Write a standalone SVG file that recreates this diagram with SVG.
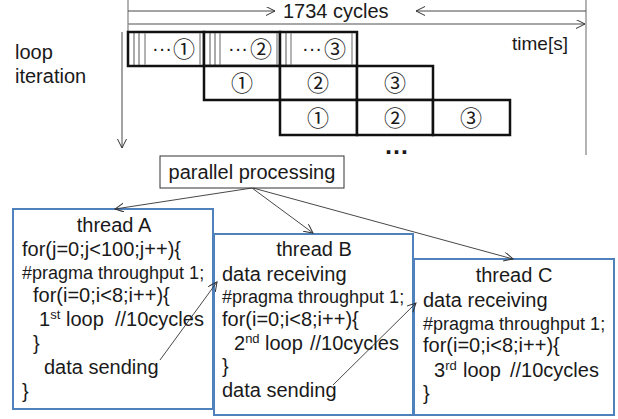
<svg xmlns="http://www.w3.org/2000/svg" width="618" height="419" viewBox="0 0 618 419">
<defs>
<style>
text{font-family:"Liberation Sans",Arial,sans-serif;font-size:20px;fill:#1a1a1a}
.pr{font-size:18px}
.sup{font-size:13px}
.cn{font-family:"Noto Sans CJK JP","DejaVu Sans",sans-serif;font-size:22px;text-anchor:middle}
.gray{stroke:#8a8a8a;stroke-width:1.3;fill:none}
.thin{stroke:#444;stroke-width:0.9;fill:none}
.cell{stroke:#111;stroke-width:2.5;fill:#fff}
.node{stroke:#4f81bd;stroke-width:2;fill:#fff}
.conn{stroke:#333;stroke-width:0.9;fill:none;marker-end:url(#ah)}
</style>
<marker id="ah" markerUnits="userSpaceOnUse" markerWidth="10" markerHeight="10" refX="9" refY="4.5" orient="auto">
<path d="M0,0 L9,4.5 L0,9" fill="none" stroke="#333" stroke-width="1"/>
</marker>
</defs>
<rect width="618" height="419" fill="#fff"/>

<g id="timeline">
<line class="gray" x1="128" y1="0" x2="128" y2="32"/>
<line class="gray" x1="586" y1="0" x2="586" y2="155"/>
<line class="conn" x1="128" y1="11" x2="275" y2="11"/>
<line class="conn" x1="586" y1="11" x2="416" y2="11"/>
<line class="gray" x1="128" y1="24" x2="585" y2="24" marker-end="url(#ah)"/>
<text x="283" y="18">1734 cycles</text>
<text x="512" y="50" style="font-size:19px">time[s]</text>
<text x="15" y="59">loop</text>
<text x="15" y="83">iteration</text>
<line class="conn" x1="122" y1="32" x2="122" y2="148"/>
</g>

<g id="row1">
<rect class="cell" x="128" y="32" width="76" height="34"/>
<rect class="cell" x="204" y="32" width="76" height="34"/>
<rect class="cell" x="280" y="32" width="77" height="34"/>
<line class="thin" x1="134" y1="33" x2="134" y2="65"/>
<line class="thin" x1="139" y1="33" x2="139" y2="65"/>
<line class="gray" x1="145" y1="33" x2="145" y2="65"/>
<line class="gray" x1="200" y1="33" x2="200" y2="65"/>
<line class="thin" x1="210" y1="33" x2="210" y2="65"/>
<line class="thin" x1="215" y1="33" x2="215" y2="65"/>
<line class="gray" x1="220" y1="33" x2="220" y2="65"/>
<line class="gray" x1="277" y1="33" x2="277" y2="65"/>
<line class="thin" x1="286" y1="33" x2="286" y2="65"/>
<line class="gray" x1="291" y1="33" x2="291" y2="65"/>
<line class="gray" x1="352" y1="33" x2="352" y2="65"/>
<text x="152" y="55">···</text><text class="cn" x="184" y="57">①</text>
<text x="228" y="55">···</text><text class="cn" x="261" y="57">②</text>
<text x="302" y="55">···</text><text class="cn" x="335" y="57">③</text>
</g>

<g id="row2">
<rect class="cell" x="204" y="66" width="76" height="34"/>
<rect class="cell" x="280" y="66" width="77" height="34"/>
<rect class="cell" x="357" y="66" width="76" height="34"/>
<text class="cn" x="242" y="91">①</text>
<text class="cn" x="318" y="91">②</text>
<text class="cn" x="395" y="91">③</text>
</g>

<g id="row3">
<rect class="cell" x="280" y="100" width="77" height="35"/>
<rect class="cell" x="357" y="100" width="76" height="35"/>
<rect class="cell" x="433" y="100" width="77" height="35"/>
<text class="cn" x="318" y="126">①</text>
<text class="cn" x="395" y="126">②</text>
<text class="cn" x="471" y="126">③</text>
<text x="384" y="154" style="font-size:25px;font-weight:bold">…</text>
</g>

<g id="parallel">
<rect x="160" y="156" width="184" height="32" fill="#fff" stroke="#333" stroke-width="1"/>
<text x="252" y="179" text-anchor="middle">parallel processing</text>
</g>

<g id="threadA">
<rect class="node" x="13" y="209" width="200" height="200"/>
<text x="114" y="232" text-anchor="middle">thread A</text>
<text x="22" y="256">for(j=0;j&lt;100;j++){</text>
<text class="pr" x="22" y="279">#pragma throughput 1;</text>
<text x="33" y="302">for(i=0;i&lt;8;i++){</text>
<text x="39" y="326">1<tspan class="sup" dy="-7">st</tspan><tspan dy="7" x="66">loop</tspan><tspan x="115">//10cycles</tspan></text>
<text x="33" y="350">}</text>
<text x="44" y="374">data sending</text>
<text x="22" y="398">}</text>
</g>

<g id="threadB">
<rect class="node" x="214" y="234" width="199" height="181"/>
<text x="314" y="256" text-anchor="middle">thread B</text>
<text x="222" y="281">data receiving</text>
<text class="pr" x="222" y="303">#pragma throughput 1;</text>
<text x="222" y="326">for(i=0;i&lt;8;i++){</text>
<text x="234" y="350">2<tspan class="sup" dy="-7">nd</tspan><tspan dy="7" x="265">loop</tspan><tspan x="310">//10cycles</tspan></text>
<text x="222" y="373">}</text>
<text x="222" y="397">data sending</text>
</g>

<g id="threadC">
<rect class="node" x="414" y="259" width="200" height="156"/>
<text x="514" y="282" text-anchor="middle">thread C</text>
<text x="423" y="307">data receiving</text>
<text class="pr" x="423" y="330">#pragma throughput 1;</text>
<text x="423" y="352">for(i=0;i&lt;8;i++){</text>
<text x="434" y="377">3<tspan class="sup" dy="-7">rd</tspan><tspan dy="7" x="463">loop</tspan><tspan x="510">//10cycles</tspan></text>
<text x="423" y="400">}</text>
</g>

<g id="connectors">
<line class="conn" x1="252" y1="188" x2="115" y2="209"/>
<line class="conn" x1="252" y1="188" x2="313" y2="233"/>
<line class="conn" x1="253" y1="188" x2="513" y2="259"/>
<line class="conn" x1="160" y1="360" x2="217" y2="282"/>
<line class="conn" x1="333" y1="385" x2="416" y2="303"/>
</g>
</svg>
